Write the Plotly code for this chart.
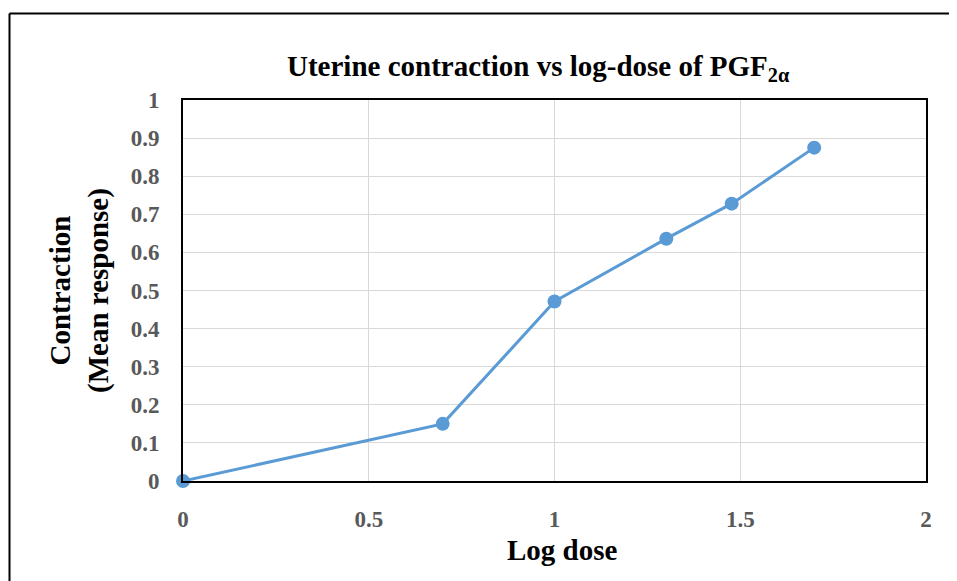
import plotly.graph_objects as go

log_dose = [0, 0.699, 1.0, 1.301, 1.477, 1.699]
mean_response = [0, 0.15, 0.471, 0.636, 0.728, 0.875]
x_ticks = [0, 0.5, 1, 1.5, 2]
x_tick_labels = ["0", "0.5", "1", "1.5", "2"]
y_ticks = [0, 0.1, 0.2, 0.3, 0.4, 0.5, 0.6, 0.7, 0.8, 0.9, 1]
y_tick_labels = ["0", "0.1", "0.2", "0.3", "0.4", "0.5", "0.6", "0.7", "0.8", "0.9", "1"]

FONT = "Liberation Serif"
OFF = 8  # default body margin of the html page
W, H = 957 - OFF, 581 - OFF
L, T, R, B = 183 - OFF, 100 - OFF, 31, 100
PW, PH = W - L - R, H - T - B


def px_x(px):
    return (px - 183) / PW


def px_y(py):
    return (481 - py) / PH


fig = go.Figure()
fig.add_trace(go.Scatter(
    x=log_dose, y=mean_response, mode="lines+markers",
    line=dict(color="#5b9bd5", width=3),
    marker=dict(color="#5b9bd5", size=14),
    cliponaxis=False, showlegend=False,
))

fig.update_layout(
    width=W, height=H,
    margin=dict(l=L, r=R, t=T, b=B),
    paper_bgcolor="white", plot_bgcolor="white",
    font=dict(family=FONT),
    xaxis=dict(
        range=[0, 2], tickvals=x_ticks, ticktext=["<b>%s</b>" % t for t in x_tick_labels],
        tickfont=dict(size=23, color="#595959", family=FONT),
        showgrid=True, gridcolor="#d9d9d9", gridwidth=1,
        showline=True, linecolor="black", linewidth=2, mirror=True,
        zeroline=False, ticks="", ticklabelstandoff=16,
    ),
    yaxis=dict(
        range=[0, 1], tickvals=y_ticks, ticktext=["<b>%s</b>" % t for t in y_tick_labels],
        tickfont=dict(size=23, color="#595959", family=FONT),
        showgrid=True, gridcolor="#d9d9d9", gridwidth=1,
        showline=True, linecolor="black", linewidth=2, mirror=True,
        zeroline=False, ticks="", ticklabelstandoff=17,
    ),
    annotations=[
        dict(text="<b>Uterine contraction vs log-dose of PGF<sub>2α</sub></b>",
             x=px_x(538), y=px_y(68), xref="paper", yref="paper",
             xanchor="center", yanchor="middle", showarrow=False,
             font=dict(size=29, color="black", family=FONT)),
        dict(text="<b>Log dose</b>", x=px_x(562), y=px_y(550), xref="paper", yref="paper",
             xanchor="center", yanchor="middle", showarrow=False,
             font=dict(size=29, color="black", family=FONT)),
        dict(text="<b>Contraction<br>(Mean response)</b>", x=px_x(79), y=px_y(291),
             xref="paper", yref="paper", xanchor="center", yanchor="middle",
             textangle=-90, showarrow=False,
             font=dict(size=29, color="black", family=FONT)),
    ],
    shapes=[
        dict(type="line", xref="paper", yref="paper",
             x0=px_x(9.5), x1=px_x(990), y0=px_y(13.5), y1=px_y(13.5),
             line=dict(color="black", width=2), layer="below"),
        dict(type="line", xref="paper", yref="paper",
             x0=px_x(9.5), x1=px_x(9.5), y0=px_y(13.5), y1=px_y(620),
             line=dict(color="black", width=2), layer="below"),
    ],
)

fig.write_html("out.html")
